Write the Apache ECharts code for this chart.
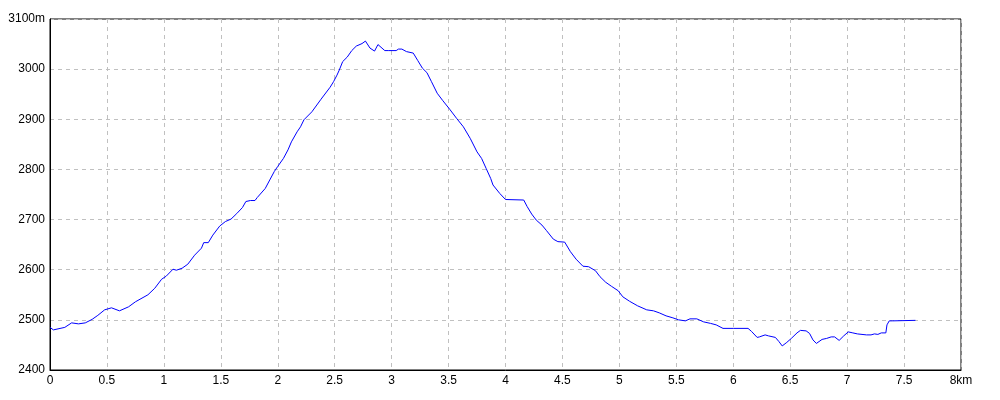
<!DOCTYPE html>
<html>
<head>
<meta charset="utf-8">
<script src="https://cdn.jsdelivr.net/npm/echarts@6/dist/echarts.min.js"></script>
<style>html,body{margin:0;padding:0;background:#fff}#c{width:1000px;height:400px}</style>
</head>
<body>
<div id="c"></div>
<script>
const distanceKm = [0, 0.03, 0.13, 0.19, 0.25, 0.31, 0.37, 0.42, 0.48, 0.54, 0.61, 0.69, 0.75, 0.86, 0.92, 0.98, 1.02, 1.08, 1.11, 1.16, 1.21, 1.27, 1.33, 1.35, 1.39, 1.43, 1.49, 1.54, 1.59, 1.64, 1.69, 1.72, 1.76, 1.80, 1.82, 1.89, 1.93, 1.97, 2.00, 2.05, 2.09, 2.12, 2.17, 2.20, 2.23, 2.30, 2.38, 2.46, 2.49, 2.52, 2.54, 2.57, 2.61, 2.65, 2.69, 2.74, 2.77, 2.78, 2.81, 2.85, 2.88, 2.94, 2.97, 3.04, 3.06, 3.09, 3.13, 3.19, 3.23, 3.27, 3.31, 3.35, 3.40, 3.45, 3.51, 3.57, 3.63, 3.69, 3.75, 3.79, 3.83, 3.87, 3.89, 3.95, 4.00, 4.16, 4.19, 4.23, 4.27, 4.32, 4.36, 4.42, 4.46, 4.52, 4.57, 4.62, 4.68, 4.73, 4.79, 4.83, 4.88, 4.93, 4.99, 5.03, 5.09, 5.16, 5.24, 5.30, 5.35, 5.41, 5.47, 5.52, 5.58, 5.62, 5.68, 5.74, 5.80, 5.85, 5.91, 6.00, 6.13, 6.16, 6.21, 6.23, 6.28, 6.31, 6.37, 6.40, 6.43, 6.47, 6.51, 6.56, 6.59, 6.64, 6.67, 6.70, 6.73, 6.78, 6.82, 6.86, 6.89, 6.93, 6.97, 7.01, 7.05, 7.09, 7.17, 7.21, 7.24, 7.27, 7.30, 7.34, 7.35, 7.37, 7.40, 7.60];
const elevationM = [2485, 2480, 2485, 2494, 2492, 2494, 2501, 2509, 2520, 2524, 2518, 2526, 2536, 2550, 2563, 2581, 2587, 2601, 2599, 2603, 2611, 2629, 2643, 2654, 2654, 2669, 2687, 2696, 2701, 2712, 2724, 2736, 2738, 2738, 2744, 2762, 2779, 2796, 2806, 2822, 2839, 2855, 2875, 2885, 2899, 2915, 2940, 2964, 2975, 2988, 2998, 3015, 3024, 3037, 3046, 3051, 3056, 3054, 3042, 3036, 3049, 3037, 3037, 3037, 3040, 3040, 3035, 3032, 3017, 3002, 2993, 2975, 2952, 2937, 2920, 2902, 2885, 2862, 2835, 2822, 2802, 2782, 2769, 2752, 2740, 2739, 2726, 2711, 2699, 2689, 2678, 2661, 2656, 2655, 2636, 2621, 2607, 2606, 2598, 2586, 2575, 2567, 2558, 2546, 2537, 2528, 2520, 2518, 2514, 2508, 2504, 2500, 2498, 2502, 2502, 2496, 2493, 2490, 2483, 2483, 2483, 2477, 2465, 2466, 2470, 2468, 2465, 2457, 2448, 2455, 2463, 2474, 2479, 2478, 2473, 2460, 2453, 2461, 2463, 2466, 2466, 2459, 2468, 2476, 2474, 2472, 2470, 2470, 2472, 2471, 2474, 2474, 2490, 2498, 2498, 2499];
const xTickLabels = ['0','0.5','1','1.5','2','2.5','3','3.5','4','4.5','5','5.5','6','6.5','7','7.5','8km'];
const yTickLabels = ['2400','2500','2600','2700','2800','2900','3000','3100m'];

const chart = echarts.init(document.getElementById('c'));
const font = 'Liberation Sans';
chart.setOption({
  animation: false,
  backgroundColor: '#fff',
  grid: { left: 50, right: 39, top: 19, bottom: 30, show: true, borderColor: '#000', borderWidth: 1, backgroundColor: 'transparent' },
  xAxis: {
    type: 'value', min: 0, max: 8, interval: 0.5,
    axisLine: { lineStyle: { color: '#000', width: 1 } },
    axisTick: { show: false },
    axisLabel: { color: '#000', fontSize: 12, fontFamily: font, margin: 5,
      formatter: v => xTickLabels[Math.round(v / 0.5)] },
    splitLine: { show: true, lineStyle: { color: '#c0c0c0', type: [4, 4], width: 1 } }
  },
  yAxis: {
    type: 'value', min: 2400, max: 3100, interval: 100,
    axisLine: { show: true, lineStyle: { color: '#000', width: 1 } },
    axisTick: { show: false },
    axisLabel: { color: '#000', fontSize: 12, fontFamily: font, margin: 5,
      formatter: v => yTickLabels[Math.round((v - 2400) / 100)] },
    splitLine: { show: true, lineStyle: { color: '#c0c0c0', type: [4, 4], width: 1 } }
  },
  series: [{
    type: 'line',
    data: distanceKm.map((d, i) => [d, elevationM[i]]),
    showSymbol: false,
    symbol: 'none',
    lineStyle: { color: '#0000ff', width: 1 },
    itemStyle: { color: '#0000ff' }
  }]
});
</script>
</body>
</html>
